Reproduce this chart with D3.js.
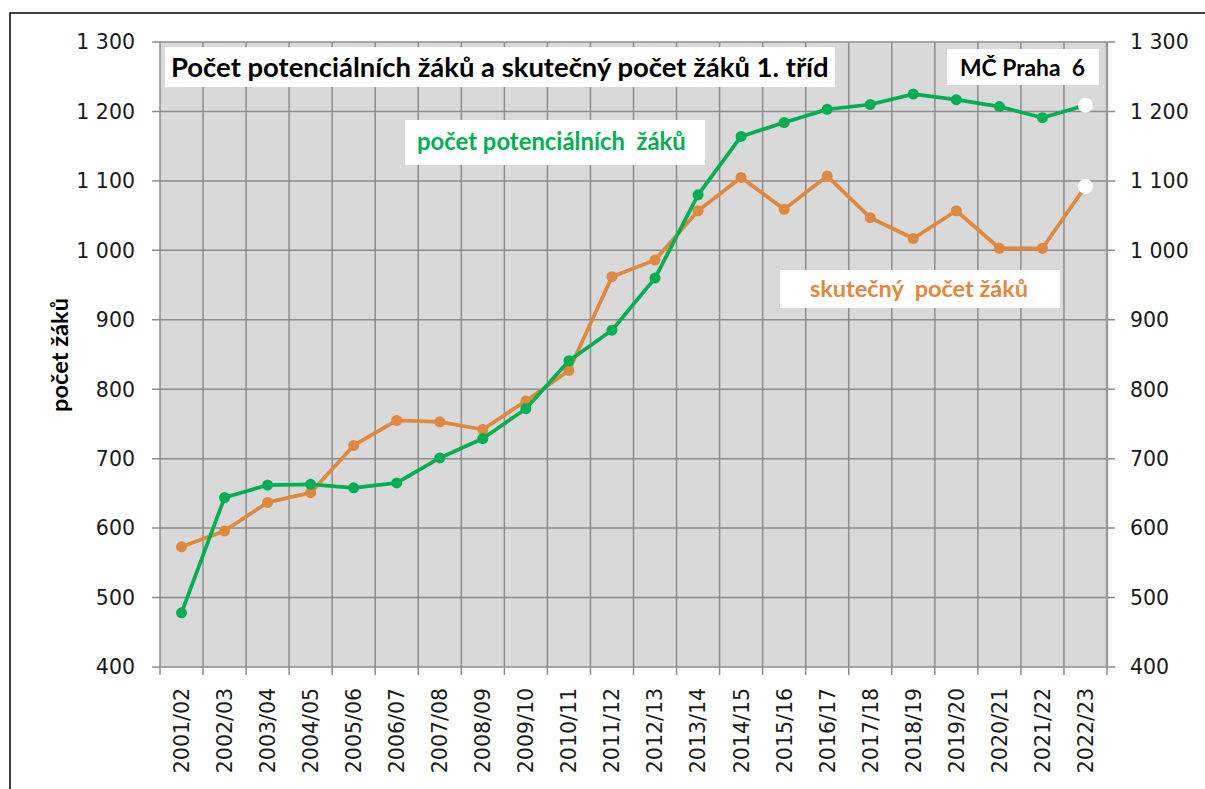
<!DOCTYPE html>
<html>
<head>
<meta charset="utf-8">
<script src="https://cdn.jsdelivr.net/npm/d3@7"></script>
<style>
  body { margin: 0; background: #fff; }
  svg text { white-space: pre; }
</style>
</head>
<body>
<div id="chart"></div>
<script>
var years = ['2001/02','2002/03','2003/04','2004/05','2005/06','2006/07','2007/08','2008/09','2009/10','2010/11','2011/12',
             '2012/13','2013/14','2014/15','2015/16','2016/17','2017/18','2018/19','2019/20','2020/21','2021/22','2022/23']
var potencialni = [478, 644, 662, 663, 658, 665, 701, 729, 772, 841, 885, 960, 1080, 1164, 1184, 1203, 1210, 1225, 1217, 1207, 1191, 1209]
var skutecny = [573, 596, 637, 651, 719, 755, 753, 742, 783, 827, 962, 986, 1057, 1105, 1059, 1107, 1047, 1017, 1057, 1003, 1003, 1092]
var yTicks = [400, 500, 600, 700, 800, 900, 1000, 1100, 1200, 1300]

var W = 1205, H = 789
var margin = {top: 42, right: 98, bottom: 122, left: 160},
    width = W - margin.left - margin.right,
    height = H - margin.top - margin.bottom

var green = '#00b050', orange = '#e0883d'
var fmt = d => d3.format(',')(d).replace(',', ' ')

var svg = d3.select('#chart').append('svg')
  .attr('width', W)
  .attr('height', H)

// outer frame (only top and left edge visible in the crop)
svg.append('rect')
  .attr('x', 10).attr('y', 13)
  .attr('width', W + 20).attr('height', H + 20)
  .attr('fill', 'none').attr('stroke', '#000').attr('stroke-width', 1.5)

var x = d3.scaleBand().domain(years).range([0, width]).padding(0)
var y = d3.scaleLinear().domain([400, 1300]).range([height, 0])

var g = svg.append('g').attr('transform', `translate(${[margin.left, margin.top]})`)

g.append('rect')
  .attr('width', width).attr('height', height)
  .attr('fill', '#d9d9d9')

// grid
var gridColor = '#8c8c8c'
g.selectAll('.hgrid').data(yTicks).enter().append('line')
  .attr('class', 'hgrid')
  .attr('x1', -8).attr('x2', width + 8)
  .attr('y1', d => y(d)).attr('y2', d => y(d))
  .attr('stroke', gridColor).attr('stroke-width', 1.5)

var bounds = years.map(d => x(d)).concat([width])
g.selectAll('.vgrid').data(bounds).enter().append('line')
  .attr('class', 'vgrid')
  .attr('x1', d => d).attr('x2', d => d)
  .attr('y1', 0).attr('y2', height + 8)
  .attr('stroke', gridColor).attr('stroke-width', 1.5)

g.append('line')
  .attr('x1', width).attr('x2', width).attr('y1', 0).attr('y2', height)
  .attr('stroke', '#9a9a9a').attr('stroke-width', 2.5)

// axes labels
var axisFont = 'DejaVu Sans'
g.selectAll('.ylab').data(yTicks).enter().append('text')
  .attr('x', -25).attr('y', d => y(d))
  .attr('dy', '0.36em')
  .attr('text-anchor', 'end')
  .attr('font-family', axisFont).attr('font-size', 20.5).attr('fill', '#1a1a1a')
  .text(fmt)

g.selectAll('.ylab2').data(yTicks).enter().append('text')
  .attr('x', width + 23).attr('y', d => y(d))
  .attr('dy', '0.36em')
  .attr('text-anchor', 'start')
  .attr('font-family', axisFont).attr('font-size', 20.5).attr('fill', '#1a1a1a')
  .text(fmt)

g.selectAll('.xlab').data(years).enter().append('text')
  .attr('transform', d => `translate(${[x(d) + x.bandwidth() / 2, height + 21]}) rotate(-90)`)
  .attr('dy', '0.36em')
  .attr('text-anchor', 'end')
  .attr('font-family', axisFont).attr('font-size', 20.5).attr('fill', '#1a1a1a')
  .text(d => d)

var yTitle = svg.append('text')
  .attr('transform', `translate(${[60, 355]}) rotate(-90)`)
  .attr('dy', '0.35em')
  .attr('text-anchor', 'middle')
  .attr('font-family', 'Lato').attr('font-weight', 'bold').attr('font-size', 20)
  .text('počet žáků')
yTitle.attr('font-size', 20 * 114 / yTitle.node().getComputedTextLength())

// series
var cx = (d, i) => x(years[i]) + x.bandwidth() / 2
var line = d3.line().x(cx).y(d => y(d))

function series(values, color) {
  g.append('path')
    .datum(values)
    .attr('d', line)
    .attr('fill', 'none')
    .attr('stroke', color).attr('stroke-width', 3.75)
    .attr('stroke-linejoin', 'round')
  g.selectAll(null).data(values).enter().append('circle')
    .attr('cx', cx).attr('cy', d => y(d))
    .attr('r', (d, i) => i == values.length - 1 ? 7.5 : 5.5)
    .attr('fill', (d, i) => i == values.length - 1 ? '#fff' : color)
}
series(skutecny, orange)
series(potencialni, green)

// labels in white boxes
function boxLabel(txt, bx, by, bw, bh, tx, ty, tw, color) {
  svg.append('rect').attr('x', bx).attr('y', by).attr('width', bw).attr('height', bh).attr('fill', '#fff')
  var t = svg.append('text')
    .attr('x', tx).attr('y', ty)
    .attr('font-family', 'Lato').attr('font-weight', 'bold').attr('font-size', 24)
    .attr('fill', color)
    .text(txt)
  var len = t.node().getComputedTextLength()
  t.attr('font-size', 24 * tw / len)
}
boxLabel('Počet potenciálních žáků a skutečný počet žáků 1. tříd', 165, 47, 670, 40, 171, 77, 658, '#000')
boxLabel('MČ Praha  6', 947, 49, 152, 36, 960, 76, 125, '#000')
boxLabel('počet potenciálních  žáků', 405, 120, 300, 45, 417, 150, 269, green)
boxLabel('skutečný  počet žáků', 780, 270, 280, 38, 810, 297, 218, orange)
</script>
</body>
</html>
